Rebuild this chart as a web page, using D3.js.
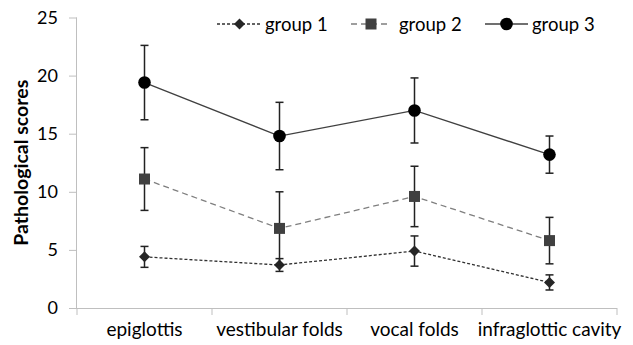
<!DOCTYPE html>
<html><head><meta charset="utf-8">
<script src="https://cdn.jsdelivr.net/npm/d3@7"></script>
<style>body{margin:0;background:#fff}svg{display:block}text{font-family:Lato,"Open Sans",sans-serif}</style>
</head><body><svg id="c" width="633" height="345"></svg>
<script>
const categories = ["epiglottis","vestibular folds","vocal folds","infraglottic cavity"];
const seriesNames = ["group 1","group 2","group 3"];
const group1 = [4.4, 3.7, 4.9, 2.2];
const group1Err = [0.9, 0.55, 1.3, 0.65];
const group2 = [11.1, 6.85, 9.6, 5.8];
const group2Err = [2.7, 3.15, 2.6, 2.0];
const group3 = [19.4, 14.8, 17.0, 13.2];
const group3Err = [3.2, 2.9, 2.8, 1.6];
const yTicks = [0,5,10,15,20,25];

const svg = d3.select("#c");
const m = {l:77, r:16, t:17.5, b:37};
const W = 633, H = 345;
const x = d3.scaleBand().domain(categories).range([m.l, W - m.r]);
const y = d3.scaleLinear().domain([0,25]).range([H - m.b, m.t]);
const axisCol = "#bfbfbf";

// y axis
const ya = svg.append("g").attr("transform",`translate(${m.l},0)`)
  .call(d3.axisLeft(y).tickValues(yTicks).tickSize(8).tickPadding(11));
ya.select(".domain").attr("stroke",axisCol).attr("d",`M-0.5,${y(25)}V${y(0)}`);
ya.selectAll(".tick line").attr("stroke",axisCol);
ya.selectAll("text").attr("font-size",18).attr("fill","#000");

// x axis
const xa = svg.append("g").attr("transform",`translate(0,${y(0)})`)
  .call(d3.axisBottom(x).tickSize(0).tickPadding(15));
xa.select(".domain").attr("stroke",axisCol).attr("d",`M${m.l},0.5H${W-m.r}`);
xa.selectAll("text").attr("font-size",19).attr("fill","#000");
const bounds = categories.map(c => x(c)).concat([x(categories[categories.length-1]) + x.bandwidth()]);
xa.selectAll(".bt").data(bounds).enter().append("line")
  .attr("x1",d=>d).attr("x2",d=>d).attr("y1",0).attr("y2",7).attr("stroke",axisCol);

// y title
svg.append("text").attr("transform",`translate(28,${(y(0)+y(25))/2}) rotate(-90)`)
  .attr("text-anchor","middle").attr("font-size",19.5).attr("font-weight","bold").text("Pathological scores");

const series = [
  {name:seriesNames[0], v:group1, e:group1Err, line:"#303030", dash:"3,2", marker:"diamond", fill:"#262626"},
  {name:seriesNames[1], v:group2, e:group2Err, line:"#7f7f7f", dash:"6,4", marker:"square", fill:"#404040"},
  {name:seriesNames[2], v:group3, e:group3Err, line:"#404040", dash:null, marker:"circle", fill:"#000"}
];
const cx = c => x(c) + x.bandwidth()/2;

function drawMarker(g, type, px, py, fill){
  if(type==="circle") g.append("circle").attr("cx",px).attr("cy",py).attr("r",6.3).attr("fill",fill);
  else if(type==="square") g.append("rect").attr("x",px-5.5).attr("y",py-5.5).attr("width",11).attr("height",11).attr("fill",fill);
  else g.append("path").attr("d",`M${px},${py-5.5}L${px+5.5},${py}L${px},${py+5.5}L${px-5.5},${py}Z`).attr("fill",fill);
}

const line = d3.line().x((d,i)=>cx(categories[i])).y(d=>y(d));
series.forEach(s=>{
  svg.append("path").attr("d",line(s.v)).attr("fill","none").attr("stroke",s.line)
    .attr("stroke-width",1.3).attr("stroke-dasharray",s.dash);
});
series.forEach(s=>{
  const g = svg.append("g");
  s.v.forEach((v,i)=>{
    const px = cx(categories[i]);
    const t = y(v + s.e[i]), b = y(v - s.e[i]);
    g.append("line").attr("x1",px).attr("x2",px).attr("y1",t).attr("y2",b).attr("stroke","#222").attr("stroke-width",1.5);
    [t,b].forEach(yy=>g.append("line").attr("x1",px-4).attr("x2",px+4).attr("y1",yy).attr("y2",yy).attr("stroke","#222").attr("stroke-width",1.5));
    drawMarker(g, s.marker, px, y(v), s.fill);
  });
});

// legend
const legX = [217, 351, 485];
const lens = [45, 40, 43];
const gaps = [3, 8, 4];
const lg = svg.append("g");
series.forEach((s,i)=>{
  const x0 = legX[i], yy = 24, len = lens[i];
  lg.append("line").attr("x1",x0).attr("x2",x0+len).attr("y1",yy).attr("y2",yy)
    .attr("stroke",s.line).attr("stroke-width",1.3).attr("stroke-dasharray",s.dash);
  drawMarker(lg, s.marker, x0+len/2, yy, s.fill);
  lg.append("text").attr("x",x0+len+gaps[i]).attr("y",yy+7).attr("font-size",18.5).text(s.name);
});
</script></body></html>
